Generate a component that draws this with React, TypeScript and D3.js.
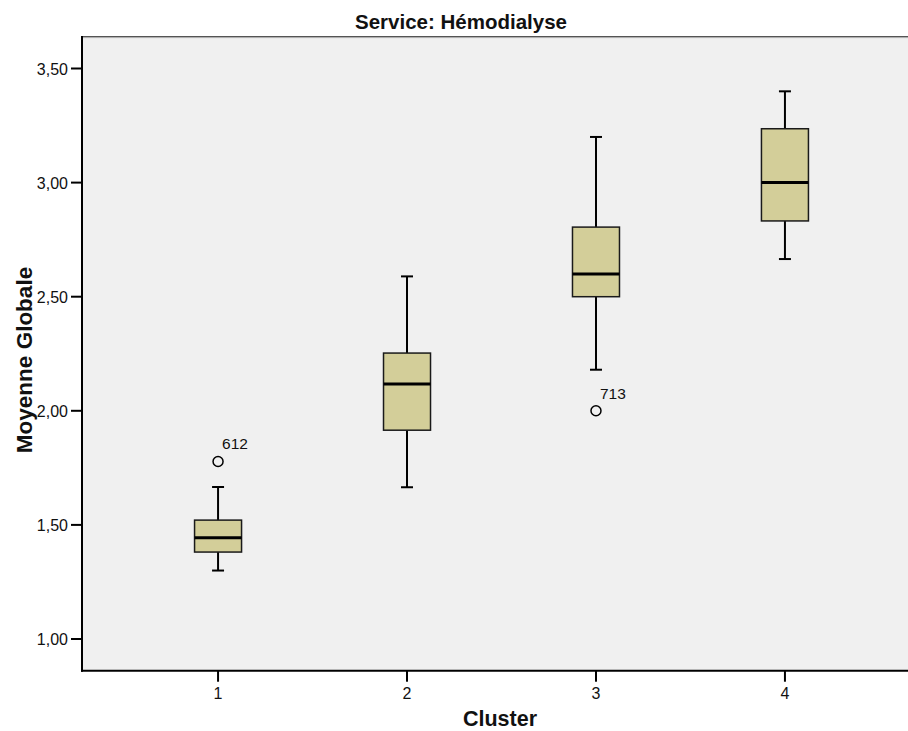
import React from "react";
import * as d3 from "d3";

const clusters = ["1", "2", "3", "4"];
const whiskerLow = [1.3, 1.665, 2.18, 2.665];
const q1 = [1.381, 1.915, 2.5, 2.832];
const median = [1.444, 2.117, 2.6, 3.0];
const q3 = [1.521, 2.253, 2.805, 3.236];
const whiskerHigh = [1.666, 2.589, 3.2, 3.4];
const outlierCluster = ["1", "3"];
const outlierValue = [1.778, 2.0];
const outlierLabel = ["612", "713"];
const yTicks = [1.0, 1.5, 2.0, 2.5, 3.0, 3.5];

const W = 908;
const H = 731;
const FONT = "Arial, 'Liberation Sans', Helvetica, sans-serif";

export default function App() {
  const y = d3.scaleLinear().domain([1, 3.5]).range([639, 68.5]);
  const yMin = 0.861;
  const yMax = 3.642;
  const x = d3.scalePoint<string>().domain(clusters).range([82, 921]).padding(0.72);
  const left = 82;
  const top = y(yMax);
  const bottom = y(yMin);
  const boxW = 47;
  const capW = 12;
  const fmt = (v: number) => d3.format(".2f")(v).replace(".", ",");

  return (
    <div style={{ position: "fixed", left: 0, top: 0 }}>
      <svg width={W} height={H} style={{ display: "block", background: "#fff" }}>
        <rect x={left} y={top} width={W - left} height={bottom - top} fill="#f0f0f0" />
        <line x1={left} x2={W} y1={top + 0.5} y2={top + 0.5} stroke="#444" strokeWidth={1} />
        <line x1={left} x2={W} y1={top + 1.5} y2={top + 1.5} stroke="#aaa" strokeWidth={1} />
        {/* title */}
        <text x={461} y={29} textAnchor="middle" fontFamily={FONT} fontWeight="bold" fontSize={20.5} fill="#111">
          Service: Hémodialyse
        </text>
        {/* boxes */}
        {clusters.map((c, i) => {
          const cx = x(c)!;
          return (
            <g key={c}>
              <line x1={cx} x2={cx} y1={y(whiskerHigh[i])} y2={y(q3[i])} stroke="#000" strokeWidth={2} />
              <line x1={cx} x2={cx} y1={y(q1[i])} y2={y(whiskerLow[i])} stroke="#000" strokeWidth={2} />
              <line x1={cx - capW / 2} x2={cx + capW / 2} y1={y(whiskerHigh[i])} y2={y(whiskerHigh[i])} stroke="#000" strokeWidth={2} />
              <line x1={cx - capW / 2} x2={cx + capW / 2} y1={y(whiskerLow[i])} y2={y(whiskerLow[i])} stroke="#000" strokeWidth={2} />
              <rect
                x={cx - boxW / 2}
                y={y(q3[i])}
                width={boxW}
                height={y(q1[i]) - y(q3[i])}
                fill="#d3ce99"
                stroke="#1a1a1a"
                strokeWidth={1.5}
              />
              <line x1={cx - boxW / 2} x2={cx + boxW / 2} y1={y(median[i])} y2={y(median[i])} stroke="#000" strokeWidth={3} />
            </g>
          );
        })}
        {/* outliers */}
        {outlierCluster.map((c, i) => {
          const cx = x(c)!;
          const cy = y(outlierValue[i]);
          return (
            <g key={"o" + i}>
              <circle cx={cx} cy={cy} r={5} fill="none" stroke="#000" strokeWidth={1.5} />
              <text x={cx + 4} y={cy - 12} fontFamily={FONT} fontSize={15.5} fill="#111">
                {outlierLabel[i]}
              </text>
            </g>
          );
        })}
        {/* y axis */}
        <line x1={left} x2={left} y1={top} y2={bottom + 1} stroke="#000" strokeWidth={2} />
        {yTicks.map((t) => (
          <g key={t}>
            <line x1={left - 11} x2={left} y1={y(t)} y2={y(t)} stroke="#000" strokeWidth={2} />
            <text x={68} y={y(t) + 6} textAnchor="end" fontFamily={FONT} fontSize={16} fill="#111">
              {fmt(t)}
            </text>
          </g>
        ))}
        {/* x axis */}
        <line x1={left - 1} x2={W} y1={bottom} y2={bottom} stroke="#000" strokeWidth={2} />
        {clusters.map((c) => (
          <g key={"x" + c}>
            <line x1={x(c)!} x2={x(c)!} y1={bottom} y2={bottom + 11} stroke="#000" strokeWidth={2} />
            <text x={x(c)!} y={699} textAnchor="middle" fontFamily={FONT} fontSize={16} fill="#111">
              {c}
            </text>
          </g>
        ))}
        <text x={500} y={726} textAnchor="middle" fontFamily={FONT} fontWeight="bold" fontSize={21.5} fill="#111">
          Cluster
        </text>
        <text
          transform={`translate(32, 360) rotate(-90)`}
          textAnchor="middle"
          fontFamily={FONT}
          fontWeight="bold"
          fontSize={22.5}
          fill="#111"
        >
          Moyenne Globale
        </text>
      </svg>
    </div>
  );
}
